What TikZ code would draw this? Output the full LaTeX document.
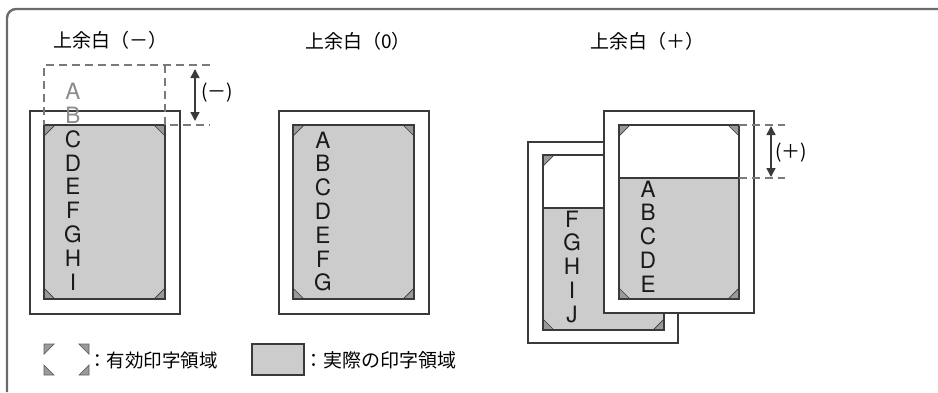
\documentclass[tikz,border=0pt]{standalone}
\usepackage{fontspec}
\newfontfamily\jpfont{Noto Sans CJK JP}
\newfontfamily\ltrfont{TeX Gyre Heros}
\usetikzlibrary{arrows.meta}

\definecolor{framegray}{HTML}{6B6B6B}
\definecolor{linegray}{HTML}{3A3A3A}
\definecolor{areagray}{HTML}{CCCCCC}
\definecolor{markgray}{HTML}{9A9A9A}
\definecolor{dashgray}{HTML}{7A7A7A}
\definecolor{fadegray}{HTML}{8C8C8C}

% corner of the effective print area: (corner), signed leg x, signed leg y
\newcommand{\cornermark}[3]{%
  \fill[markgray] #1 -- ++(#2,0) -- ++({-1*(#2)},#3) -- cycle;
  \draw[linegray, line width=0.7pt] #1 ++(#2,0) -- ++({-1*(#2)},#3);}

\begin{document}
\begin{tikzpicture}[
  x=1pt, y=-1pt,
  frame/.style={draw=framegray, line width=2.4pt, rounded corners=9pt},
  paper/.style={draw=linegray, fill=white, line width=1.4pt},
  areaedge/.style={draw=linegray, line width=1.2pt},
  dimline/.style={draw=dashgray, line width=1.4pt, dash pattern=on 8pt off 5pt},
  dimarr/.style={<->, >={Triangle[length=9pt, width=9pt]}, line width=1.5pt, draw=linegray, fill=linegray},
  ltr/.style={font=\ltrfont\fontsize{22.5}{22.5}\selectfont, inner sep=0pt,
    text height=16.2pt, text depth=0pt, text=black!90},
  title/.style={font=\jpfont\fontsize{19}{19}\selectfont, inner sep=0pt, anchor=west},
  lbl/.style={font=\jpfont\fontsize{19}{19}\selectfont, inner sep=0pt, anchor=west}
]
  \useasboundingbox (0,0) rectangle (938,392);
  \draw[frame] (7,392) -- (7,9) -- (938,9);

  % top margin (-)
  \node[title] (tminus) at (53,40) {上余白（－）};
  \draw[paper] (30,111) rectangle (180,314);
  \fill[areagray] (44,125) rectangle (165,299);
  \cornermark{(44,125)}{11}{11}
  \cornermark{(165,125)}{-11}{11}
  \cornermark{(44,299)}{11}{-11}
  \cornermark{(165,299)}{-11}{-11}
  \draw[areaedge] (44,125) rectangle (165,299);
  \foreach \l [count=\i from 0] in {A,B}
    \node[ltr, text=fadegray] (m\l) at (73,{91.5+\i*23.8}) {\l};
  \foreach \l [count=\i from 2] in {C,D,E,F,G,H,I}
    \node[ltr] (m\l) at (73,{91.5+\i*23.8}) {\l};
  \draw[dimline] (210,65) -- (44,65) -- (44,125);
  \draw[dimline] (165,65) -- (165,125) -- (210,125);
  \coordinate (mtop) at (195,65);
  \coordinate (mbot) at (195,125);
  \draw[dimarr, shorten <=4pt, shorten >=4pt] (mtop) -- (mbot);
  \node[lbl] (mlbl) at (201,93) {(－)};

  % top margin (0)
  \node[title] (tzero) at (305,41) {上余白（0）};
  \draw[paper] (279,111) rectangle (429,314);
  \fill[areagray] (293,125) rectangle (414,299);
  \cornermark{(293,125)}{11}{11}
  \cornermark{(414,125)}{-11}{11}
  \cornermark{(293,299)}{11}{-11}
  \cornermark{(414,299)}{-11}{-11}
  \draw[areaedge] (293,125) rectangle (414,299);
  \foreach \l [count=\i from 0] in {A,B,C,D,E,F,G}
    \node[ltr] (z\l) at (323,{140+\i*23.8}) {\l};

  % top margin (+), second page behind
  \node[title] (tplus) at (590,41) {上余白（＋）};
  \draw[paper] (528,142) rectangle (678,343);
  \fill[areagray] (543,208) rectangle (664,330);
  \cornermark{(543,155)}{11}{11}
  \cornermark{(543,330)}{11}{-11}
  \cornermark{(664,330)}{-11}{-11}
  \draw[areaedge] (543,155) rectangle (664,330);
  \draw[areaedge] (543,208) -- (664,208);
  \foreach \l [count=\i from 0] in {F,G,H,I,J}
    \node[ltr] (b\l) at (572,{219+\i*23.8}) {\l};

  % first page in front
  \draw[paper] (604,111) rectangle (754,313);
  \fill[areagray] (619,178) rectangle (739,299);
  \cornermark{(619,125)}{11}{11}
  \cornermark{(739,125)}{-11}{11}
  \cornermark{(619,299)}{11}{-11}
  \cornermark{(739,299)}{-11}{-11}
  \draw[areaedge] (619,125) rectangle (739,299);
  \draw[areaedge] (619,178) -- (739,178);
  \foreach \l [count=\i from 0] in {A,B,C,D,E}
    \node[ltr] (f\l) at (648,{189+\i*23.8}) {\l};
  \draw[dimline] (739,125) -- (785,125);
  \draw[dimline] (739,178) -- (785,178);
  \coordinate (ptop) at (771,125);
  \coordinate (pbot) at (771,178);
  \draw[dimarr, shorten <=1pt, shorten >=1pt] (ptop) -- (pbot);
  \node[lbl] (plbl) at (775,153) {(＋)};

  % legend
  \begin{scope}[draw=linegray!80, fill=markgray, line width=0.7pt]
    \filldraw (44,344) -- (54,344) -- (44,354) -- cycle;
    \filldraw (44,375) -- (44,365) -- (54,375) -- cycle;
    \filldraw (89,344) -- (79,344) -- (89,354) -- cycle;
    \filldraw (89,375) -- (89,365) -- (79,375) -- cycle;
  \end{scope}
  \node[lbl, font=\jpfont\fontsize{18.5}{18.5}\selectfont] (lgdmark) at (88,360) {：有効印字領域};
  \draw[areaedge, fill=areagray] (252,344) rectangle (304,375);
  \node[lbl] (lgdarea) at (304,360) {：実際の印字領域};
\end{tikzpicture}
\end{document}
